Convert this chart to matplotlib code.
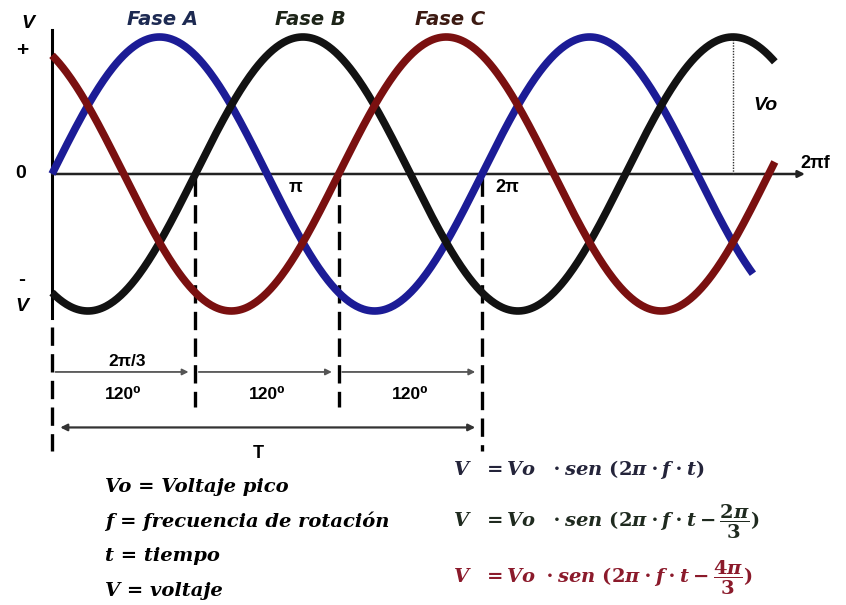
import numpy as np
import matplotlib.pyplot as plt

# Three phase waves: V = Vo * sen(theta - phase)
phase_names = ["Fase A", "Fase B", "Fase C"]
phase_shift = [0.0, 2 * np.pi / 3, 4 * np.pi / 3]
phase_end = [10.24, 10.56, 10.56]        # where each drawn wave stops (rad)
line_colors = ["#1c1c96", "#121212", "#7a1010"]
title_colors = ["#1d2a52", "#1d2418", "#3c1a12"]
title_x = [1.62, 3.77, 5.82]

Vo = 1.0
seg_labels = ["120\u2070", "120\u2070", "120\u2070"]

legend_left = [
    "Vo = Voltaje pico",
    "f = frecuencia de rotación",
    "t = tiempo",
    "V = voltaje",
]
formulas = [
    r"$V\ \ = Vo\ \ \cdot sen\ (2\pi\cdot f\cdot t)$",
    r"$V\ \ = Vo\ \ \cdot sen\ (2\pi\cdot f\cdot t-\dfrac{2\pi}{3})$",
    r"$V\ \ = Vo\ \cdot sen\ (2\pi\cdot f\cdot t-\dfrac{4\pi}{3})$",
]
formula_colors = ["#24243a", "#1f2a1f", "#8b1a2b"]


def main():
    plt.rcParams["mathtext.fontset"] = "custom"
    plt.rcParams["mathtext.rm"] = "DejaVu Serif:bold"
    plt.rcParams["mathtext.it"] = "DejaVu Serif:italic:bold"
    plt.rcParams["mathtext.bf"] = "DejaVu Serif:bold"

    fig = plt.figure(figsize=(8.46, 6.05), dpi=100)
    ax = fig.add_axes([0, 0, 1, 1])
    ax.set_xlim(-0.76, 11.6)
    ax.set_ylim(-3.146, 1.27)
    ax.axis("off")

    sans = ["Liberation Sans", "DejaVu Sans"]

    # waves
    for shift, end, col in zip(phase_shift, phase_end, line_colors):
        th = np.linspace(0, end, 600)
        ax.plot(th, Vo * np.sin(th - shift), color=col, lw=5.5,
                solid_capstyle="butt", zorder=3)

    for name, x, col in zip(phase_names, title_x, title_colors):
        ax.text(x, 1.125, name, color=col, fontsize=14, fontweight="bold",
                fontstyle="italic", ha="center", va="center",
                family="DejaVu Sans")

    # axes
    ax.plot([0, 0], [1.05, -1.05], color="black", lw=2.2, zorder=2)
    ax.annotate("", xy=(11.0, 0), xytext=(0, 0),
                arrowprops=dict(arrowstyle="-|>", color="#222222", lw=1.8,
                                mutation_scale=10, shrinkA=0, shrinkB=0),
                zorder=2)

    # Vo marker at the last peak of Fase B
    peak_b = np.pi / 2 + 2 * np.pi + phase_shift[1]
    ax.plot([peak_b, peak_b], [0, Vo], color="#333333", lw=1.0,
            ls=(0, (1, 1)), zorder=2)
    ax.text(peak_b + 0.3, 0.5, "Vo", fontsize=14, fontweight="bold",
            fontstyle="italic", ha="left", va="center", family=sans)

    ax.text(-0.35, 1.095, "V", fontsize=14, fontweight="bold",
            fontstyle="italic", ha="center", va="center", family=sans)
    ax.text(-0.44, 0.9, "+", fontsize=15, fontweight="bold",
            ha="center", va="center", family=sans)
    ax.text(-0.46, 0.0, "0", fontsize=14, fontweight="bold",
            ha="center", va="center", family=sans)
    ax.text(-0.44, -0.77, "-", fontsize=15, fontweight="bold",
            ha="center", va="center", family=sans)
    ax.text(-0.44, -0.97, "V", fontsize=14, fontweight="bold",
            fontstyle="italic", ha="center", va="center", family=sans)

    ax.text(3.55, -0.1, "\u03c0", fontsize=13, fontweight="bold",
            ha="center", va="center", family=sans)
    ax.text(6.65, -0.1, "2\u03c0", fontsize=13, fontweight="bold",
            ha="center", va="center", family=sans)
    ax.text(11.15, 0.08, "2\u03c0f", fontsize=13, fontweight="bold",
            ha="center", va="center", family=sans)

    # dashed guide lines at 0, 2pi/3, 4pi/3, 2pi
    dash = dict(color="black", lw=2.4, ls=(0, (5.5, 2.5)), zorder=2)
    ax.plot([0, 0], [-1.12, -2.02], **dash)
    for b in phase_shift[1:]:
        ax.plot([b, b], [-0.03, -1.7], **dash)
    ax.plot([2 * np.pi] * 2, [-0.03, -2.02], **dash)

    # 120 degree segments
    bounds = phase_shift + [2 * np.pi]
    for i in range(3):
        a, b = bounds[i], bounds[i + 1]
        ax.annotate("", xy=(b - 0.1, -1.445), xytext=(a + 0.05, -1.445),
                    arrowprops=dict(arrowstyle="-|>", color="#555555",
                                    lw=1.3, mutation_scale=9,
                                    shrinkA=0, shrinkB=0))
        ax.text((a + b) / 2, -1.61, seg_labels[i], fontsize=12.5,
                fontweight="bold", ha="center", va="center", family=sans)
    ax.text(1.1, -1.37, "2\u03c0/3", fontsize=12.5, fontweight="bold",
            ha="center", va="center", family=sans)

    # period T
    ax.annotate("", xy=(2 * np.pi - 0.1, -1.85), xytext=(0.12, -1.85),
                arrowprops=dict(arrowstyle="<|-|>", color="#333333",
                                lw=1.6, mutation_scale=10,
                                shrinkA=0, shrinkB=0))
    ax.text(np.pi - 0.13, -2.04, "T", fontsize=13, fontweight="bold",
            ha="center", va="center", family=sans)

    # definitions
    ys = [-2.285, -2.533, -2.788, -3.044]
    for y, s in zip(ys, legend_left):
        ax.text(0.77, y, s, fontsize=14, fontweight="bold",
                fontstyle="italic", ha="left", va="center",
                family="DejaVu Serif")

    for y, s, c in zip([-2.16, -2.54, -2.95], formulas, formula_colors):
        ax.text(5.86, y, s, fontsize=14, color=c, ha="left", va="center")

    fig.savefig("out.png", dpi=100, facecolor="white")


if __name__ == "__main__":
    main()
